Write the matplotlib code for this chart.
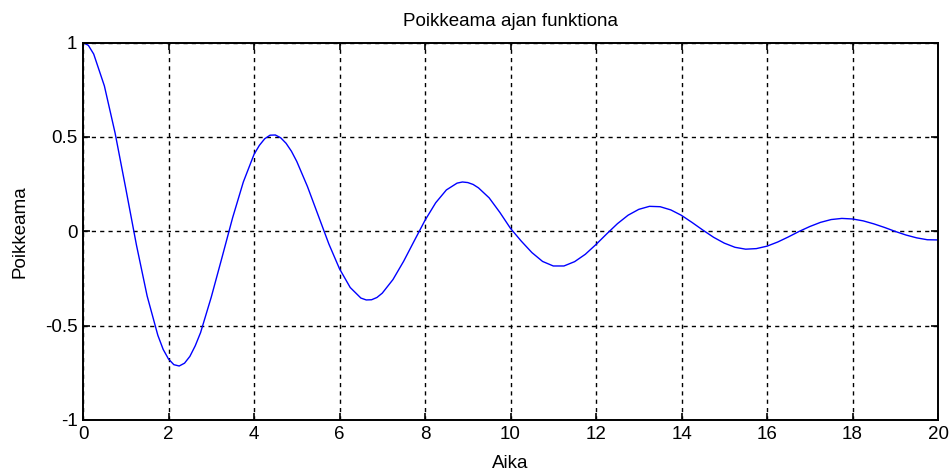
import numpy as np
import matplotlib
matplotlib.use("Agg")
import matplotlib.pyplot as plt

# sampled deflection of the damped oscillation (denser around the first peaks)
aika = [
    0, 0.125, 0.25, 0.5, 0.75, 1.0, 1.25, 1.5, 1.75, 1.875,
    2.0, 2.125, 2.25, 2.375, 2.5, 2.625, 2.75, 3.0, 3.25, 3.5,
    3.75, 4.0, 4.125, 4.25, 4.375, 4.5, 4.625, 4.75, 4.875, 5.0,
    5.25, 5.5, 5.75, 6.0, 6.25, 6.5, 6.625, 6.75, 6.875, 7.0,
    7.25, 7.5, 7.75, 8.0, 8.25, 8.5, 8.75, 8.875, 9.0, 9.125,
    9.25, 9.5, 9.75, 10.0, 10.25, 10.5, 10.75, 11.0, 11.25, 11.5,
    11.75, 12.0, 12.25, 12.5, 12.75, 13.0, 13.25, 13.5, 13.75, 14.0,
    14.25, 14.5, 14.75, 15.0, 15.25, 15.5, 15.75, 16.0, 16.25, 16.5,
    16.75, 17.0, 17.25, 17.5, 17.75, 18.0, 18.25, 18.5, 18.75, 19.0,
    19.25, 19.5, 19.75, 20.0,
]
poikkeama = [
    1.000, 0.985, 0.939, 0.770, 0.521, 0.227, -0.073, -0.343, -0.551, -0.626,
    -0.677, -0.707, -0.714, -0.699, -0.663, -0.607, -0.537, -0.349, -0.140, 0.072,
    0.261, 0.407, 0.455, 0.490, 0.509, 0.510, 0.495, 0.466, 0.424, 0.370,
    0.237, 0.085, -0.067, -0.199, -0.298, -0.354, -0.364, -0.363, -0.351, -0.328,
    -0.256, -0.159, -0.050, 0.058, 0.151, 0.219, 0.255, 0.261, 0.258, 0.248,
    0.230, 0.177, 0.100, 0.015, -0.052, -0.113, -0.160, -0.184, -0.184, -0.161,
    -0.122, -0.070, -0.014, 0.040, 0.085, 0.116, 0.132, 0.130, 0.113, 0.084,
    0.046, 0.006, -0.032, -0.063, -0.085, -0.095, -0.092, -0.079, -0.057, -0.030,
    -0.001, 0.025, 0.047, 0.062, 0.068, 0.065, 0.055, 0.039, 0.020, -0.001,
    -0.020, -0.035, -0.045, -0.046,
]

xticks = np.arange(0, 21, 2)
yticks = [-1, -0.5, 0, 0.5, 1]
yticklabels = ["-1", "-0.5", "0", "0.5", "1"]

plt.rcParams['font.family'] = ['Liberation Sans', 'DejaVu Sans']

fig = plt.figure(figsize=(9.53, 4.73), dpi=100)
ax = fig.add_axes([0.0871, 0.1121, 0.8972, 0.798])

ax.plot(aika, poikkeama, color='#0000ff', linewidth=1.0)

ax.set_xlim(0, 20)
ax.set_ylim(-1, 1)
ax.set_xticks(xticks)
ax.set_yticks(yticks)
ax.set_yticklabels(yticklabels)

ax.grid(True, color='black', linestyle=(0, (3, 3)), linewidth=1.0)
ax.tick_params(direction='in', top=True, right=True, length=5, width=1.2,
               labelsize=13.5, pad=4)
for s in ax.spines.values():
    s.set_linewidth(1.4)

ax.set_title("Poikkeama ajan funktiona", fontsize=13.5, pad=12)
ax.set_xlabel("Aika", fontsize=13.5, labelpad=9)
ax.set_ylabel("Poikkeama", fontsize=13.5, labelpad=12)

fig.savefig("out.png", dpi=100)
